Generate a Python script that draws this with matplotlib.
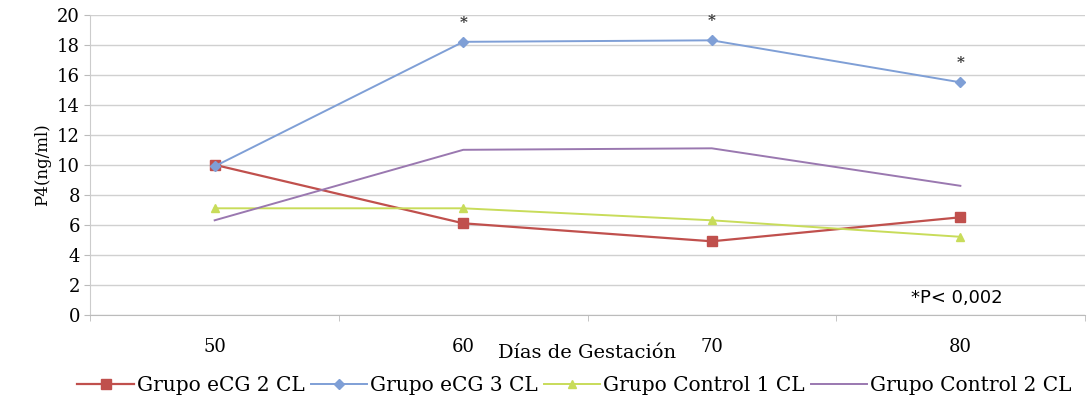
import numpy as np
import matplotlib
matplotlib.use("Agg")
import matplotlib.pyplot as plt

# datos
dias = ["50", "60", "70", "80"]
ecg2 = [10.0, 6.1, 4.9, 6.5]
ecg3 = [9.9, 18.2, 18.3, 15.5]
control1 = [7.1, 7.1, 6.3, 5.2]
control2 = [6.3, 11.0, 11.1, 8.6]
asteriscos = [None, "*", "*", "*"]

plt.rcParams['font.family'] = ['DejaVu Serif']

fig = plt.figure(figsize=(10.89, 4.01), dpi=100)
ax = fig.add_axes([0.083, 0.215, 0.913, 0.748])

x = np.arange(len(dias))
ax.plot(x, ecg2, color="#c0504d", marker="s", markersize=7, lw=1.6, label="Grupo eCG 2 CL")
ax.plot(x, ecg3, color="#7f9fd6", marker="D", markersize=5, lw=1.4, label="Grupo eCG 3 CL")
ax.plot(x, control1, color="#c8dc5a", marker="^", markersize=6, lw=1.4, label="Grupo Control 1 CL")
ax.plot(x, control2, color="#9a78b0", lw=1.4, label="Grupo Control 2 CL")

# asteriscos de significancia sobre eCG 3 CL
for i, a in enumerate(asteriscos):
    if a:
        ax.text(x[i], ecg3[i] + 0.8, a, ha="center", va="bottom", fontsize=11,
                fontweight="bold", color="#333333")

ax.text(0.871, 0.057, "*P< 0,002", transform=ax.transAxes, ha="center", va="center",
        fontsize=13, family="DejaVu Sans")

ax.set_xlim(-0.5, 3.5)
ax.set_ylim(0, 20)
ax.set_yticks(np.arange(0, 21, 2))
ax.set_xticks(x)
ax.set_xticklabels(dias)
ax.set_xticks(np.arange(-0.5, 3.6, 1), minor=True)
ax.tick_params(axis="x", which="major", length=0, pad=17, labelsize=13)
ax.tick_params(axis="x", which="minor", length=4, color="#bbbbbb")
ax.tick_params(axis="y", length=4, color="#bbbbbb", labelsize=13)
ax.grid(axis="y", color="#d0d0d0", lw=1)
ax.set_axisbelow(True)
for s in ["top", "right"]:
    ax.spines[s].set_visible(False)
ax.spines["left"].set_color("#cccccc")
ax.spines["bottom"].set_color("#bbbbbb")

ax.set_ylabel("P4(ng/ml)", fontsize=12, labelpad=4)
ax.set_xlabel("Días de Gestación", fontsize=14, labelpad=-9)

ax.legend(loc="upper center", bbox_to_anchor=(0.487, -0.145), ncol=4, frameon=False,
          fontsize=14.5, handlelength=2.8, handletextpad=0.15, columnspacing=0.3)

plt.savefig("out.png")
